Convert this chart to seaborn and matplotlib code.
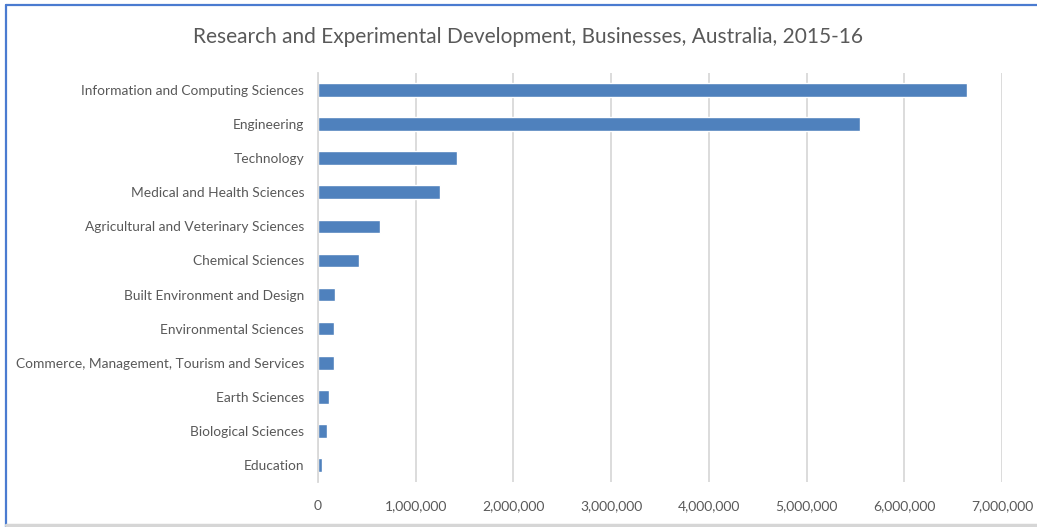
import matplotlib
matplotlib.use("Agg")
import matplotlib.pyplot as plt
from matplotlib.lines import Line2D
from matplotlib.ticker import FuncFormatter
import seaborn as sns
import pandas as pd

fields = [
    "Information and Computing Sciences",
    "Engineering",
    "Technology",
    "Medical and Health Sciences",
    "Agricultural and Veterinary Sciences",
    "Chemical Sciences",
    "Built Environment and Design",
    "Environmental Sciences",
    "Commerce, Management, Tourism and Services",
    "Earth Sciences",
    "Biological Sciences",
    "Education",
]
expenditure = [
    6640000, 5550000, 1420000, 1250000, 630000, 415000,
    177000, 160000, 160000, 113000, 92000, 41000,
]
x_ticks = [0, 1000000, 2000000, 3000000, 4000000, 5000000, 6000000, 7000000]

df = pd.DataFrame({"field": fields, "value": expenditure})

sns.set_theme(style="white")
plt.rcParams["font.family"] = ["Lato", "DejaVu Sans"]

text_col = "#595959"
grid_col = "#D9D9D9"
bar_col = "#4F81BD"

fig = plt.figure(figsize=(10.37, 5.27), dpi=100)
ax = fig.add_axes([0.3067, 0.0854, 0.6595, 0.7761])

sns.barplot(data=df, x="value", y="field", orient="h", color=bar_col,
            width=0.4, saturation=1, ax=ax)

ax.set_xlim(0, 7000000)
ax.set_xticks(x_ticks)
ax.xaxis.set_major_formatter(FuncFormatter(lambda v, p: f"{int(v):,}"))
ax.set_xlabel("")
ax.set_ylabel("")
ax.grid(axis="x", color=grid_col, linewidth=1.3)
ax.set_axisbelow(True)
for side in ["top", "right", "bottom"]:
    ax.spines[side].set_visible(False)
ax.spines["left"].set_color(grid_col)
ax.spines["left"].set_linewidth(1.3)
ax.tick_params(axis="both", length=0, colors=text_col, labelsize=10)
ax.tick_params(axis="x", pad=13)
ax.tick_params(axis="y", labelsize=9.9, pad=10)

fig.text(0.509, 0.929, "Research and Experimental Development, Businesses, Australia, 2015-16",
         ha="center", va="center", fontsize=15, color=text_col)

# frame around the chart area
fig.add_artist(Line2D([0.0058, 0.0058], [0.0, 0.991], transform=fig.transFigure,
                      color="#4A7BD0", linewidth=1.6))
fig.add_artist(Line2D([0.0058, 1.0], [0.991, 0.991], transform=fig.transFigure,
                      color="#4A7BD0", linewidth=1.6))
fig.add_artist(Line2D([0.0058, 1.0], [0.004, 0.004], transform=fig.transFigure,
                      color="#D6D6D6", linewidth=2.5))

fig.savefig("out.png", dpi=100)
